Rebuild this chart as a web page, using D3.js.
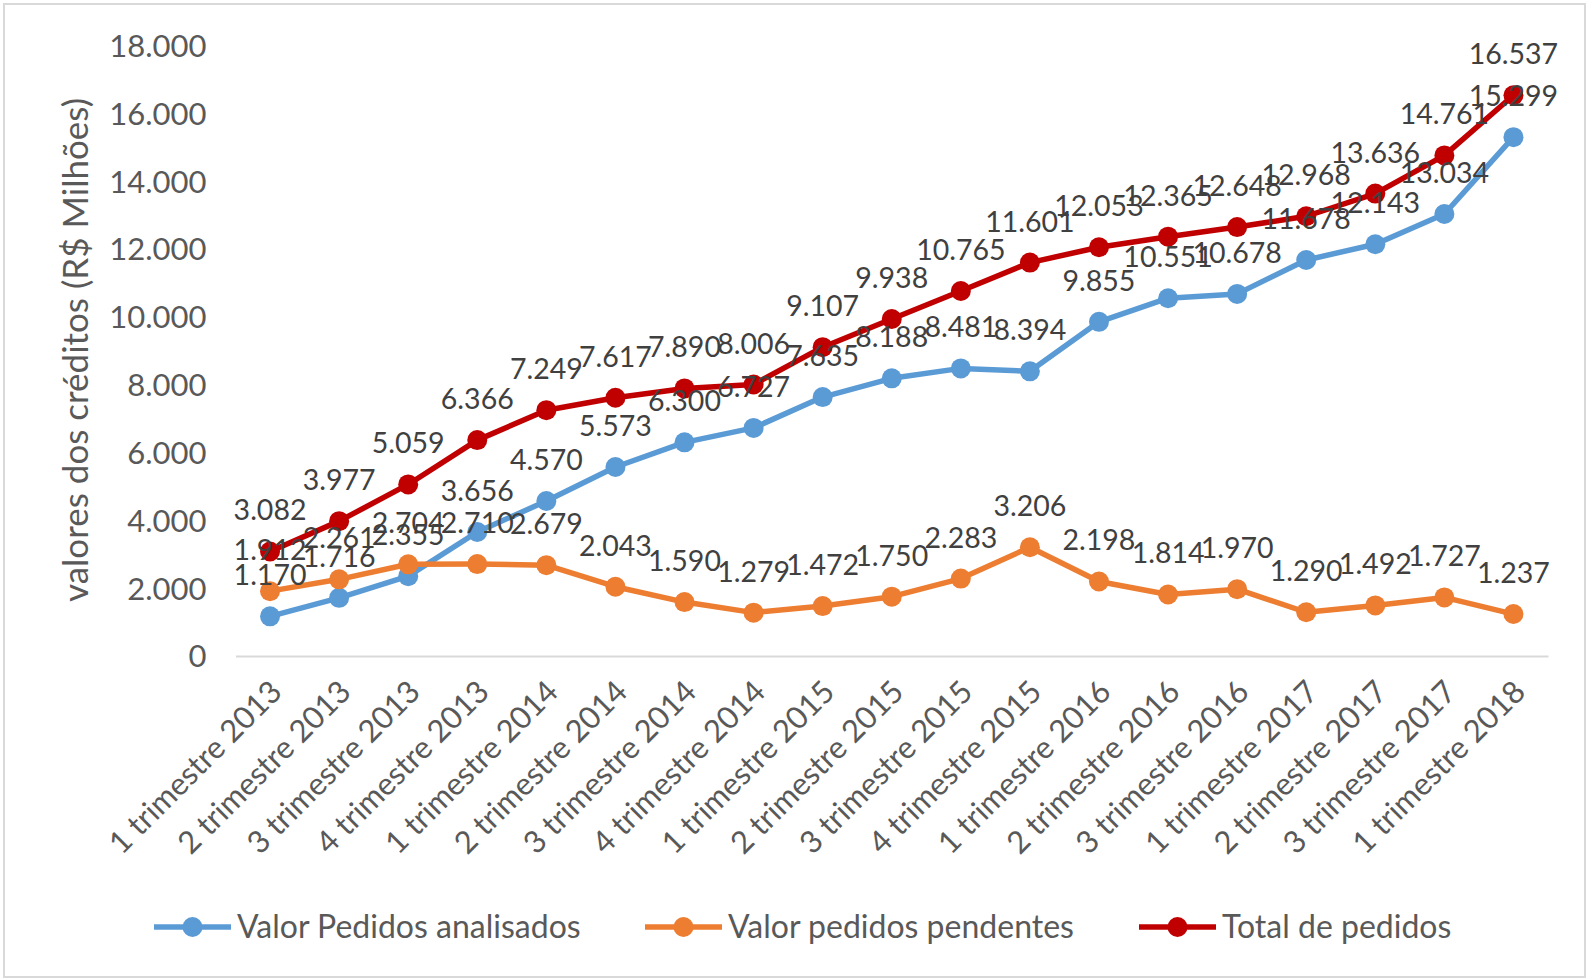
<!DOCTYPE html>
<html>
<head>
<meta charset="utf-8">
<script src="https://cdn.jsdelivr.net/npm/d3@7"></script>
<style>
  body { margin: 0; background: #fff; }
  text { font-family: Lato, "Open Sans", sans-serif; }
</style>
</head>
<body>
<div class="chart"></div>
<script>
// pedidos de crédito por trimestre (R$ milhões)

var categories = ["1 trimestre 2013", "2 trimestre 2013", "3 trimestre 2013", "4 trimestre 2013",
  "1 trimestre 2014", "2 trimestre 2014", "3 trimestre 2014", "4 trimestre 2014",
  "1 trimestre 2015", "2 trimestre 2015", "3 trimestre 2015", "4 trimestre 2015",
  "1 trimestre 2016", "2 trimestre 2016", "3 trimestre 2016",
  "1 trimestre 2017", "2 trimestre 2017", "3 trimestre 2017", "1 trimestre 2018"];

var analisados = [1170, 1716, 2355, 3656, 4570, 5573, 6300, 6727, 7635, 8188, 8481, 8394,
  9855, 10551, 10678, 11678, 12143, 13034, 15299];
var pendentes = [1912, 2261, 2704, 2710, 2679, 2043, 1590, 1279, 1472, 1750, 2283, 3206,
  2198, 1814, 1970, 1290, 1492, 1727, 1237];
var total = [3082, 3977, 5059, 6366, 7249, 7617, 7890, 8006, 9107, 9938, 10765, 11601,
  12053, 12365, 12648, 12968, 13636, 14761, 16537];

var yTicks = [0, 2000, 4000, 6000, 8000, 10000, 12000, 14000, 16000, 18000];

var seriesNames = ["Valor Pedidos analisados", "Valor pedidos pendentes", "Total de pedidos"];
var seriesColors = ["#5B9BD5", "#ED7D31", "#C00000"];

var width = 1588,
    height = 980;

var ptBR = d3.formatLocale({decimal: ",", thousands: ".", grouping: [3], currency: ["R$", ""]});
var fmt = ptBR.format(",.0f");

/* scales */
var x = d3.scaleBand().domain(categories).range([235.5, 1548]).padding(0);
var y = d3.scaleLinear().domain([0, 18000]).range([656, 45.6]);
var cx = function(d) { return x(d) + x.bandwidth() / 2; };

var svg = d3.select(".chart").append("svg")
    .attr("width", width)
    .attr("height", height);

// chart border
svg.append("rect")
    .attr("x", 4).attr("y", 4)
    .attr("width", width - 7).attr("height", height - 7)
    .attr("fill", "#fff")
    .attr("stroke", "#d9d9d9")
    .attr("stroke-width", 2);

// Y axis
var yAxis = svg.append("g")
    .attr("transform", "translate(235.5,0)")
    .call(d3.axisLeft(y).tickValues(yTicks).tickSize(0).tickPadding(29).tickFormat(fmt));
yAxis.select(".domain").remove();
yAxis.selectAll("text")
    .attr("fill", "#595959")
    .style("font-size", "31px")
    .attr("dy", "0.35em");

// X axis
var xAxis = svg.append("g")
    .attr("transform", "translate(0," + y(0) + ")")
    .call(d3.axisBottom(x).tickSize(0).tickFormat(function(d) { return d; }));
xAxis.select(".domain").attr("stroke", "#d9d9d9").attr("stroke-width", 2);
xAxis.selectAll("text")
    .attr("fill", "#595959")
    .style("font-size", "31px")
    .attr("text-anchor", "end")
    .attr("x", 0).attr("y", 0).attr("dy", "0.35em")
    .attr("transform", "translate(6,30) rotate(-45)");

// Y title
svg.append("text")
    .attr("transform", "translate(76,350) rotate(-90)")
    .attr("text-anchor", "middle")
    .attr("dy", "0.35em")
    .attr("fill", "#595959")
    .style("font-size", "35px")
    .text("valores dos créditos (R$ Milhões)");

/* lines */
var series = [analisados, pendentes, total];

var line = d3.line()
    .x(function(d, i) { return cx(categories[i]); })
    .y(function(d) { return y(d); });

series.forEach(function(vals, s) {
  svg.append("path")
      .datum(vals)
      .attr("fill", "none")
      .attr("stroke", seriesColors[s])
      .attr("stroke-width", 5.5)
      .attr("stroke-linejoin", "round")
      .attr("d", line);
  svg.selectAll(".dot" + s)
      .data(vals)
      .enter().append("circle")
      .attr("cx", function(d, i) { return cx(categories[i]); })
      .attr("cy", function(d) { return y(d); })
      .attr("r", 10)
      .attr("fill", seriesColors[s]);
});

// data labels on top of everything
series.forEach(function(vals, s) {
  svg.selectAll(".lbl" + s)
      .data(vals)
      .enter().append("text")
      .attr("x", function(d, i) { return cx(categories[i]); })
      .attr("y", function(d) { return y(d) - 31; })
      .attr("text-anchor", "middle")
      .attr("fill", "#404040")
      .style("font-size", "28.5px")
      .text(function(d) { return fmt(d); });
});

/* legend */
var legendX = [154, 645, 1139];
var legend = svg.selectAll(".legend")
    .data(seriesNames)
    .enter().append("g")
    .attr("transform", function(d, i) { return "translate(" + legendX[i] + ",927)"; });
legend.append("line")
    .attr("x1", 0).attr("x2", 77)
    .attr("stroke", function(d, i) { return seriesColors[i]; })
    .attr("stroke-width", 5.5);
legend.append("circle")
    .attr("cx", 38.5).attr("r", 10)
    .attr("fill", function(d, i) { return seriesColors[i]; });
legend.append("text")
    .attr("x", 83)
    .attr("dy", "0.35em")
    .attr("fill", "#595959")
    .style("font-size", "32px")
    .text(function(d) { return d; });
</script>
</body>
</html>
